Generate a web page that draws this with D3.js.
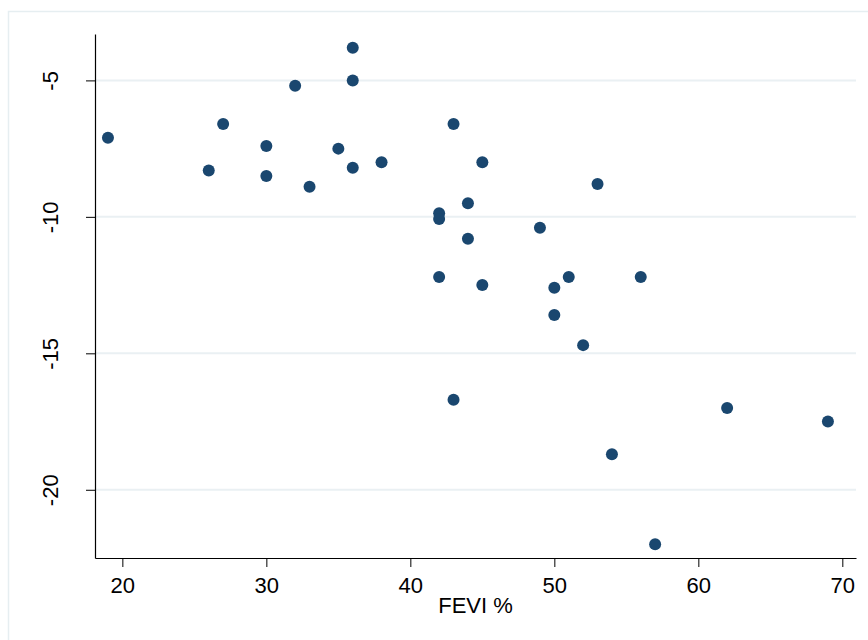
<!DOCTYPE html>
<html>
<head>
<meta charset="utf-8">
<script src="https://cdn.jsdelivr.net/npm/d3@7"></script>
<style>
  body { margin: 0; background: #fff; }
  text { font-family: "Liberation Sans", Arial, sans-serif; fill: #000; }
</style>
</head>
<body>
<div id="chart"></div>
<script>
// set the dimensions of the graph
const width = 868,
  height = 640;

// data
const fevi = [19, 26, 27, 30, 30, 32, 33, 35, 36, 36, 36, 38, 42, 42, 42, 43, 43,
  44, 44, 45, 45, 49, 50, 50, 51, 52, 53, 54, 56, 57, 62, 69];
const change = [-7.1, -8.3, -6.6, -7.4, -8.5, -5.2, -8.9, -7.5, -3.8, -5.0, -8.2, -8.0, -9.87, -10.08, -12.2, -6.6, -16.7,
  -9.5, -10.8, -8.0, -12.5, -10.4, -12.6, -13.6, -12.2, -14.7, -8.8, -18.7, -12.2, -22.0, -17.0, -17.5];
const xTicks = [20, 30, 40, 50, 60, 70];
const yTicks = [-5, -10, -15, -20];
const xTitle = "FEVI %";

const svg = d3.select("#chart")
  .append("svg")
  .attr("width", width)
  .attr("height", height);

// outer graph region border (only top/left visible)
svg.append("rect")
  .attr("x", 8.5).attr("y", 11.5)
  .attr("width", 870).attr("height", 640)
  .attr("fill", "none")
  .attr("stroke", "#e6eef1")
  .attr("stroke-width", 1.5);

// scales
const x = d3.scaleLinear().domain([18.1, 70.95]).range([95, 856]);
const y = d3.scaleLinear().domain([-22.5, -3.3]).range([558, 34]);

// grid lines
svg.selectAll("line.grid")
  .data(yTicks)
  .join("line")
  .attr("class", "grid")
  .attr("x1", x.range()[0])
  .attr("x2", x.range()[1])
  .attr("y1", d => y(d))
  .attr("y2", d => y(d))
  .attr("stroke", "#eaf0f3")
  .attr("stroke-width", 2);

// x axis
const xAxis = svg.append("g")
  .attr("transform", `translate(0,${y.range()[0]})`)
  .call(d3.axisBottom(x).tickValues(xTicks).tickSize(9).tickPadding(10).tickSizeOuter(0));
xAxis.select(".domain").attr("stroke", "#000").attr("stroke-width", 1.2);
xAxis.selectAll(".tick line").attr("stroke", "#000");
xAxis.selectAll(".tick text")
  .style("font-size", "22px")
  .style("font-family", "'Liberation Sans', Arial, sans-serif");

// y axis
const yAxis = svg.append("g")
  .attr("transform", `translate(${x.range()[0]},0)`)
  .call(d3.axisLeft(y).tickValues(yTicks).tickSize(9).tickSizeOuter(0).tickFormat(d => d));
yAxis.select(".domain").attr("stroke", "#000").attr("stroke-width", 1.2);
yAxis.selectAll(".tick line").attr("stroke", "#000");
yAxis.selectAll(".tick text")
  .attr("x", null).attr("dy", null)
  .attr("transform", "translate(-37,0) rotate(-90)")
  .attr("text-anchor", "middle")
  .style("font-size", "22px")
  .style("font-family", "'Liberation Sans', Arial, sans-serif");

// axis title
svg.append("text")
  .attr("x", (x.range()[0] + x.range()[1]) / 2)
  .attr("y", 613)
  .attr("text-anchor", "middle")
  .style("font-size", "22px")
  .text(xTitle);

// points
svg.selectAll("circle.pt")
  .data(fevi.map((d, i) => [d, change[i]]))
  .join("circle")
  .attr("class", "pt")
  .attr("cx", d => x(d[0]))
  .attr("cy", d => y(d[1]))
  .attr("r", 6)
  .attr("fill", "#1a476f");
</script>
</body>
</html>
